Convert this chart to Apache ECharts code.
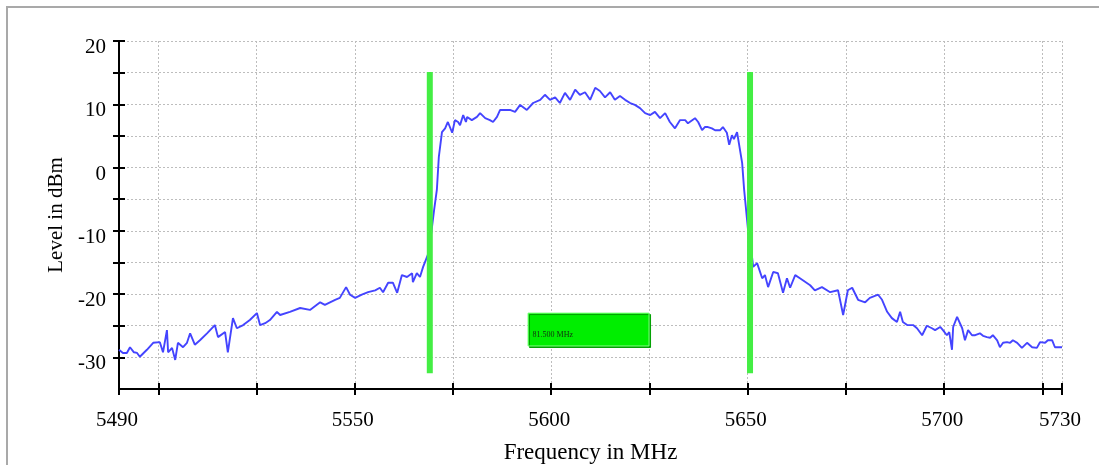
<!DOCTYPE html>
<html>
<head>
<meta charset="utf-8">
<script src="https://cdn.jsdelivr.net/npm/echarts@6/dist/echarts.min.js"></script>
<style>
html,body{margin:0;padding:0;background:#fff;}
#chart{width:1099px;height:465px;}
</style>
</head>
<body>
<div id="chart"></div>
<script>
// Spectrum trace (frequency in MHz, level in dBm)
const freqMHz = [
5490.0,5491.0,5492.0,5492.8,5493.8,5494.6,5495.3,5497.1,5498.7,5500.4,
5501.2,5502.2,5502.5,5503.5,5504.3,5505.0,5506.3,5507.3,5508.1,5509.3,
5510.6,5512.4,5514.4,5515.2,5517.0,5517.7,5519.0,5520.0,5521.6,5523.3,
5525.1,5525.9,5527.2,5528.4,5530.2,5531.0,5533.5,5536.1,5538.6,5541.2,
5542.4,5545.0,5546.2,5547.8,5548.8,5550.1,5551.8,5553.4,5555.2,5556.4,
5557.2,5558.5,5559.7,5560.8,5562.0,5563.3,5564.6,5564.8,5565.8,5566.6,
5567.4,5568.6,5569.4,5570.2,5570.9,5571.4,5572.2,5573.0,5573.7,5574.8,
5575.5,5576.3,5576.8,5577.6,5578.3,5578.6,5579.8,5581.1,5581.9,5583.2,
5584.4,5585.2,5586.2,5587.0,5589.5,5590.8,5592.1,5593.8,5595.4,5597.2,
5598.4,5599.7,5601.0,5602.2,5603.5,5604.8,5606.1,5607.3,5608.6,5609.9,
5611.2,5612.4,5613.7,5615.0,5616.2,5617.5,5618.8,5620.1,5621.3,5622.6,
5623.9,5625.2,5626.4,5627.7,5629.0,5630.2,5631.5,5632.8,5634.1,5634.8,
5636.6,5637.4,5638.4,5639.1,5639.9,5640.9,5641.7,5643.0,5643.7,5644.7,
5645.3,5646.0,5646.5,5647.3,5647.8,5648.6,5649.1,5650.1,5650.9,5651.4,
5652.4,5653.7,5654.4,5655.2,5656.5,5657.7,5658.2,5659.0,5660.0,5660.8,
5662.1,5663.3,5665.9,5667.1,5668.9,5671.0,5673.0,5674.3,5675.5,5676.6,
5678.1,5679.9,5681.1,5683.2,5684.2,5685.5,5686.7,5688.0,5688.8,5689.5,
5690.6,5692.1,5693.1,5694.4,5695.6,5696.9,5697.7,5699.0,5699.7,5700.7,
5701.3,5702.0,5702.3,5703.3,5703.8,5704.6,5705.3,5706.1,5707.1,5707.9,
5709.1,5709.9,5710.9,5711.7,5712.4,5713.5,5714.2,5715.0,5716.0,5716.8,
5717.5,5718.6,5719.8,5721.1,5722.4,5723.6,5724.4,5725.7,5726.4,5727.5,
5728.2,5729.0,5730.0
];
const levelDbm = [
-28.8,-29.3,-29.3,-28.4,-29.2,-29.3,-29.9,-28.8,-27.7,-27.6,
-29.2,-25.7,-29.2,-28.5,-30.4,-27.7,-28.4,-27.7,-26.2,-28.0,
-27.3,-26.2,-24.9,-26.8,-26.0,-29.2,-23.8,-25.4,-24.9,-24.1,
-23.0,-24.9,-24.6,-24.1,-22.8,-23.3,-22.8,-22.2,-22.5,-21.3,
-21.7,-20.9,-20.6,-18.9,-20.1,-20.6,-20.1,-19.7,-19.4,-19.0,
-19.7,-18.2,-18.2,-19.8,-17.0,-17.3,-16.7,-18.1,-16.7,-17.3,
-15.7,-13.8,-10.7,-6.7,-3.5,1.7,5.6,6.2,7.2,5.5,
7.5,7.2,6.7,8.3,7.2,8.0,7.5,8.0,8.6,7.8,
7.5,7.2,8.0,9.1,9.1,8.8,9.9,9.1,10.2,10.7,
11.5,10.7,11.1,10.2,11.8,10.7,12.3,11.5,11.9,10.7,
12.6,12.1,11.1,11.9,10.7,11.3,10.7,10.2,9.9,9.4,
8.6,8.3,8.8,7.8,8.6,7.2,6.2,7.5,7.5,7.0,
7.8,7.2,5.9,6.4,6.4,6.2,5.9,5.9,6.4,5.5,
3.6,5.1,4.5,5.6,5.5,0.7,-3.5,-9.9,-13.0,-15.7,
-15.1,-17.5,-17.0,-18.9,-16.5,-16.7,-17.0,-19.8,-17.5,-19.0,
-17.0,-17.5,-18.6,-19.4,-18.9,-19.7,-19.4,-23.3,-19.4,-19.0,
-20.9,-21.3,-20.6,-20.1,-20.9,-22.8,-23.8,-24.4,-22.8,-24.4,
-24.9,-24.9,-25.4,-26.5,-25.0,-25.4,-25.7,-25.2,-25.7,-26.5,
-26.0,-28.8,-25.2,-23.6,-23.8,-25.4,-27.3,-25.7,-26.5,-26.5,
-26.2,-26.6,-26.8,-26.9,-26.5,-27.3,-28.4,-27.7,-27.6,-27.7,
-27.3,-27.7,-28.5,-27.7,-28.4,-28.5,-27.6,-27.7,-27.3,-27.3,
-28.4,-28.4,-28.4
];
// Bandwidth markers
const markerFreqs = [5569.1, 5650.6];
const markerLevels = [15.1, -32.5];
const spanText = '81.500 MHz';
const spanBoxFreqs = [5594.1, 5624.9];
const spanBoxLevels = [-23.0, -28.2];
// Axis ticks and labels
const xTickValues = [5490,5500,5525,5550,5575,5600,5625,5650,5675,5700,5725,5730];
const xLabelValues = [5490,5550,5600,5650,5700,5730];
const yTickValues = [-30,-25,-20,-15,-10,-5,0,5,10,15,20];
const yLabelValues = [-30,-20,-10,0,10,20];
const xName = 'Frequency in MHz';
const yName = 'Level in dBm';

const FONT = 'Liberation Serif';
const trace = freqMHz.map((f, i) => [f, levelDbm[i]]);

const chart = echarts.init(document.getElementById('chart'), null, {renderer: 'canvas'});

const gridLine = {show: true, lineStyle: {color: '#bdbdbd', width: 1, type: [2, 2]}};
const plain = v => String(v);
const baseX = {
  type: 'value', min: 5490, max: 5730, gridIndex: 0, position: 'bottom'
};
const baseY = {
  type: 'value', min: -35, max: 20, gridIndex: 0, position: 'left'
};

const option = {
  animation: false,
  backgroundColor: '#ffffff',
  graphic: [{
    type: 'rect', shape: {x: 7, y: 7, width: 1200, height: 600},
    style: {fill: 'none', stroke: '#a9a9a9', lineWidth: 2}, z: -10, silent: true
  }],
  grid: {left: 119, right: 37, top: 41, bottom: 76, outerBoundsMode: 'none', containLabel: false},
  xAxis: [
    Object.assign({}, baseX, {
      name: xName, nameLocation: 'middle', nameGap: 52,
      nameTextStyle: {fontFamily: FONT, fontSize: 23, color: '#000'},
      axisLine: {show: true, onZero: false, lineStyle: {color: '#000', width: 2}},
      axisTick: {show: true, inside: false, length: 6, customValues: xTickValues,
                 lineStyle: {color: '#000', width: 2}},
      axisLabel: {show: true, customValues: xLabelValues, margin: 21, padding: [0, 4, 0, 0],
                  formatter: plain, fontFamily: FONT, fontSize: 21, color: '#000'},
      splitLine: gridLine
    }),
    Object.assign({}, baseX, {
      axisLine: {show: false, onZero: false},
      axisTick: {show: true, inside: true, length: 6, customValues: xTickValues,
                 lineStyle: {color: '#000', width: 2}},
      axisLabel: {show: false},
      splitLine: {show: false}
    })
  ],
  yAxis: [
    Object.assign({}, baseY, {
      name: yName, nameLocation: 'middle', nameGap: 51,
      nameTextStyle: {fontFamily: FONT, fontSize: 21, color: '#000'},
      axisLine: {show: true, onZero: false, lineStyle: {color: '#000', width: 2}},
      axisTick: {show: true, inside: false, length: 6, customValues: yTickValues,
                 lineStyle: {color: '#000', width: 2}},
      axisLabel: {show: true, customValues: yLabelValues, margin: 13,
                  verticalAlign: 'top', lineHeight: 13,
                  formatter: plain, fontFamily: FONT, fontSize: 21, color: '#000'},
      splitLine: gridLine
    }),
    Object.assign({}, baseY, {
      axisLine: {show: false, onZero: false},
      axisTick: {show: true, inside: true, length: 6, customValues: yTickValues,
                 lineStyle: {color: '#000', width: 2}},
      axisLabel: {show: false},
      splitLine: {show: false}
    })
  ],
  series: [
    {
      name: 'Trace', type: 'line', xAxisIndex: 0, yAxisIndex: 0,
      data: trace, showSymbol: false, symbol: 'none', smooth: false,
      lineStyle: {color: '#4444ff', width: 1.9}, z: 3, silent: true
    },
    {
      name: 'Marker 1', type: 'line', xAxisIndex: 0, yAxisIndex: 0,
      data: markerLevels.map(v => [markerFreqs[0], v]), symbol: 'none',
      lineStyle: {color: '#44ee44', width: 6, cap: 'butt'}, z: 5, silent: true
    },
    {
      name: 'Marker 2', type: 'line', xAxisIndex: 0, yAxisIndex: 0,
      data: markerLevels.map(v => [markerFreqs[1], v]), symbol: 'none',
      lineStyle: {color: '#44ee44', width: 6, cap: 'butt'}, z: 5, silent: true,
      markArea: {
        silent: true,
        itemStyle: {color: '#00ee00', borderColor: '#80ff80', borderWidth: 1,
                    shadowColor: '#00a000', shadowOffsetX: 1.5, shadowOffsetY: 1.5, shadowBlur: 0},
        label: {show: true, position: [5, 18], fontFamily: FONT, fontSize: 8, color: '#103010'},
        data: [[
          {name: spanText, xAxis: spanBoxFreqs[0], yAxis: spanBoxLevels[0]},
          {xAxis: spanBoxFreqs[1], yAxis: spanBoxLevels[1]}
        ]]
      }
    }
  ]
};
chart.setOption(option);
</script>
</body>
</html>
